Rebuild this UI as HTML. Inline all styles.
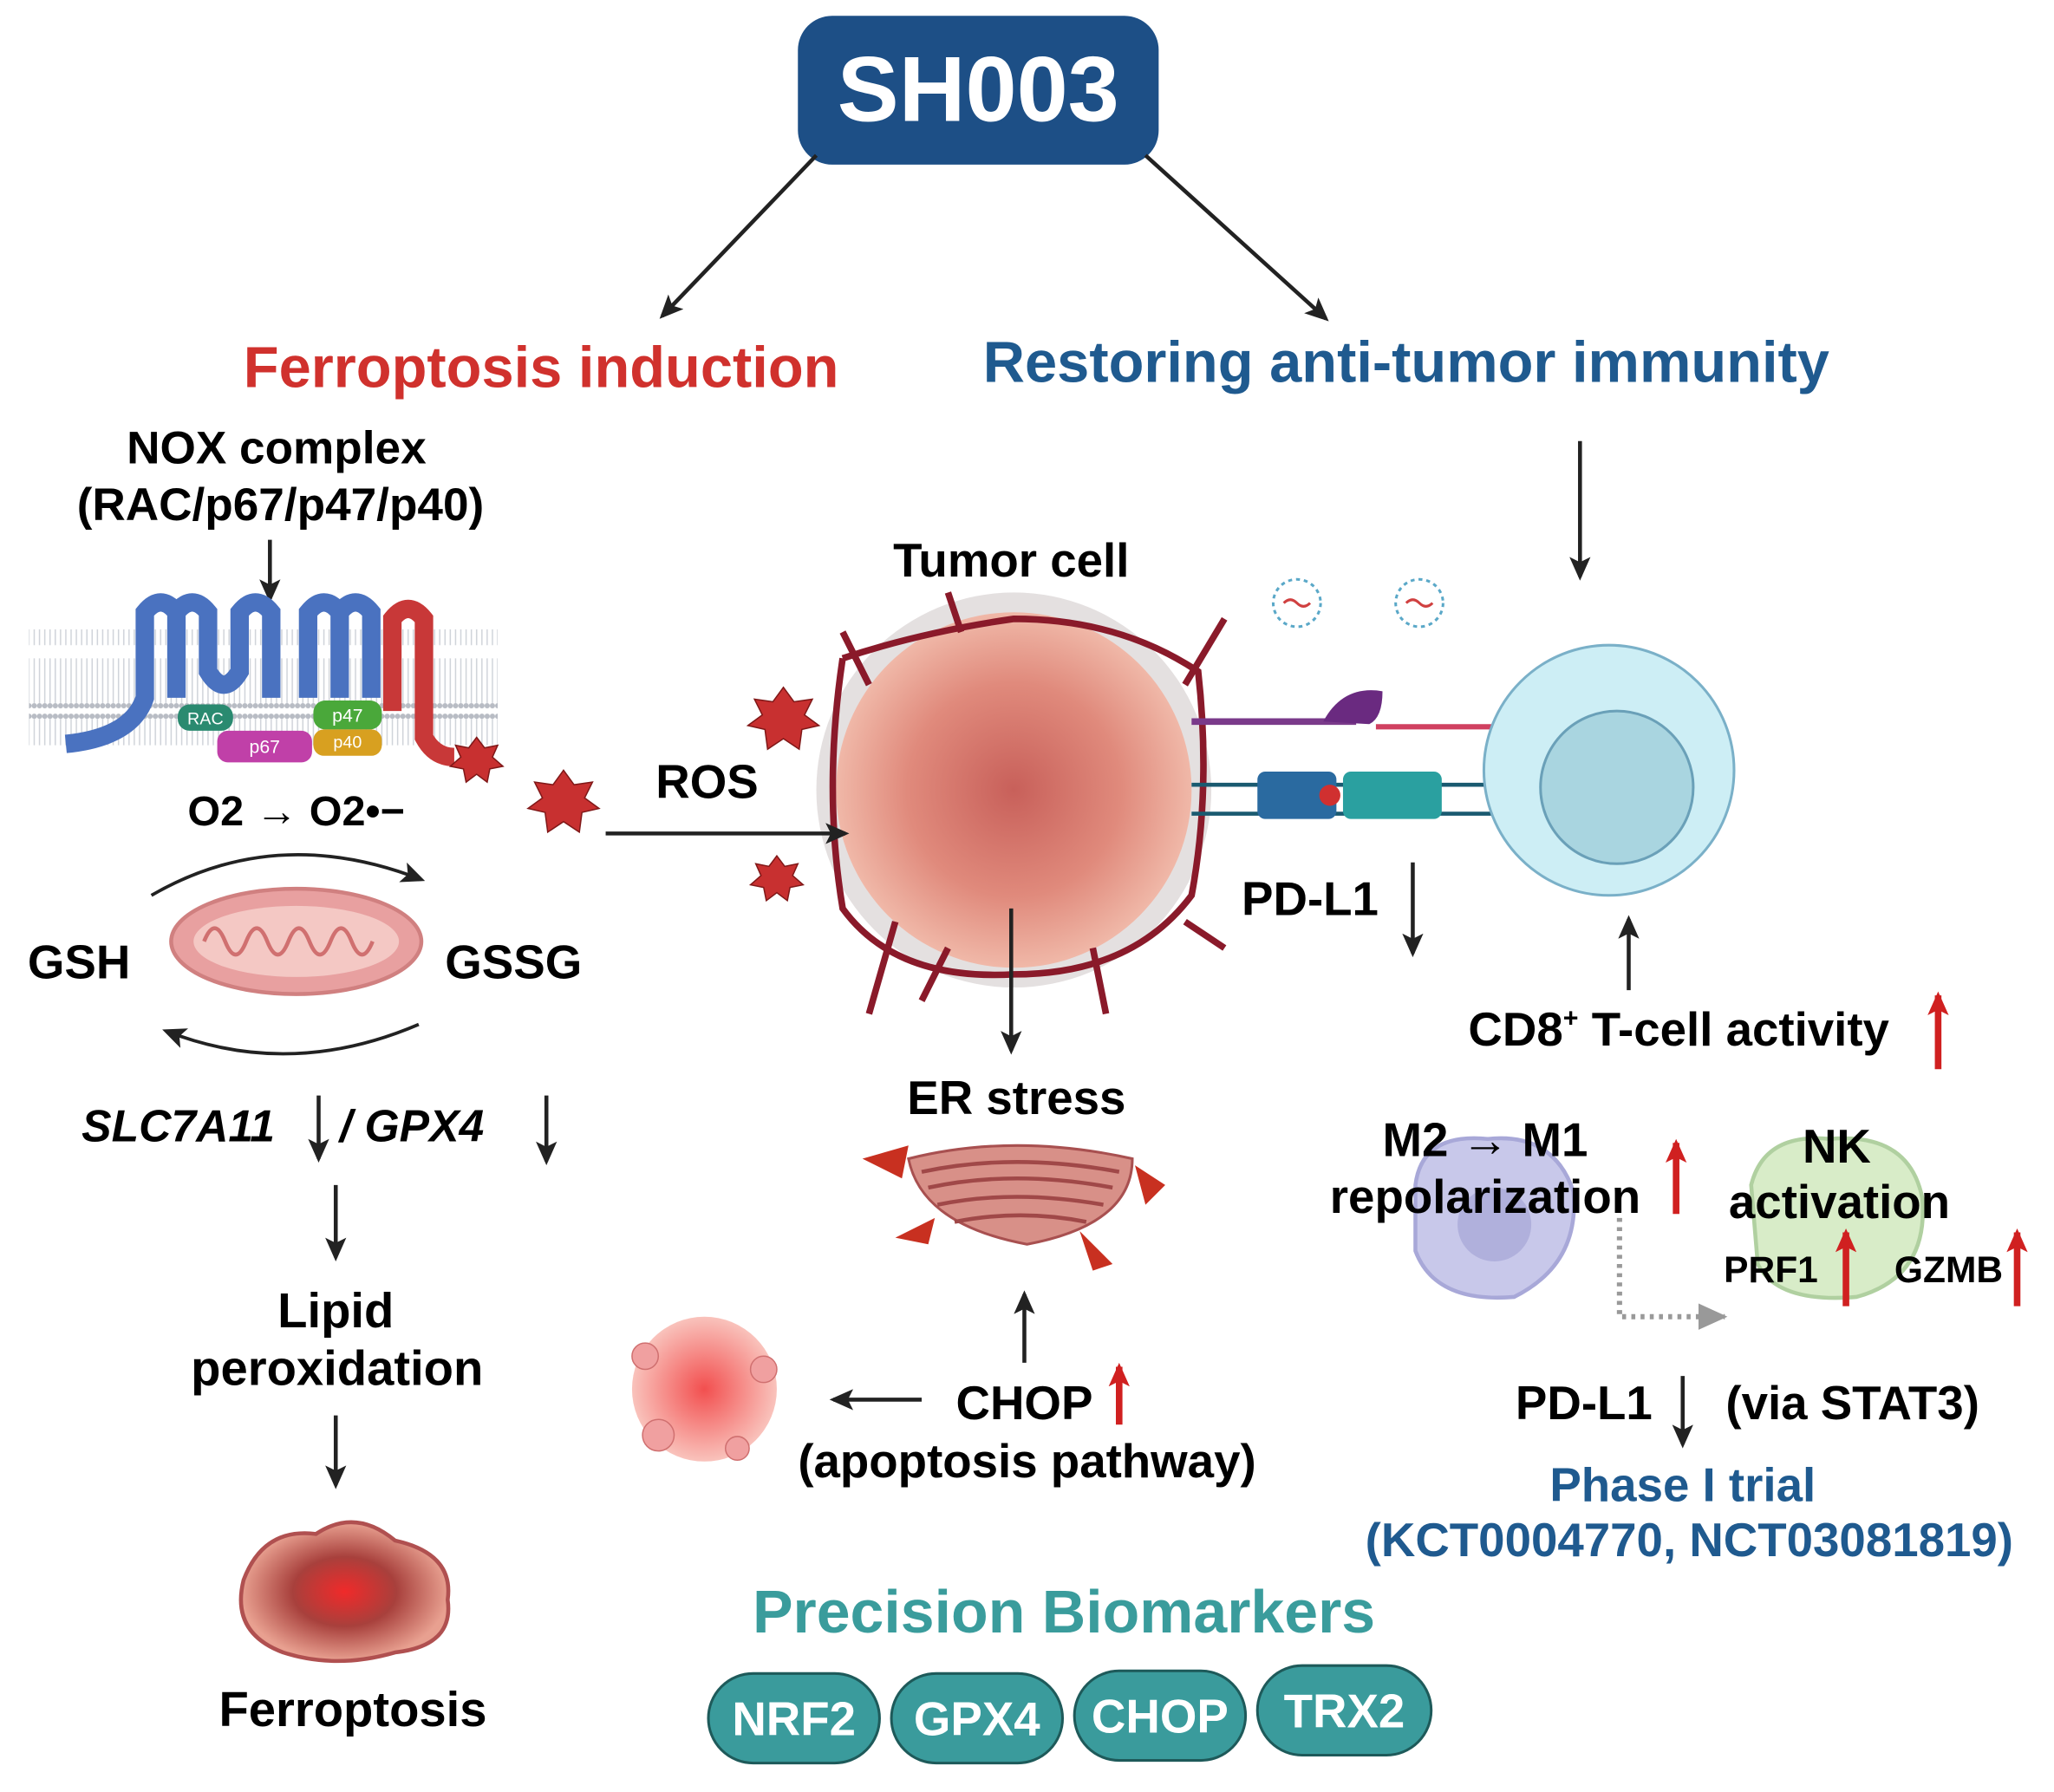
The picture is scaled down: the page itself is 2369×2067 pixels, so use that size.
<!DOCTYPE html>
<html><head><meta charset="utf-8"><style>
html,body{margin:0;padding:0;background:#fff}
svg{display:block}
text{font-family:"Liberation Sans",sans-serif}
</style></head><body>
<svg width="2369" height="2067" viewBox="0 0 1560 1361" preserveAspectRatio="none" xmlns="http://www.w3.org/2000/svg">
<defs>
<marker id="ah" markerWidth="18" markerHeight="16" refX="15" refY="8" orient="auto" markerUnits="userSpaceOnUse"><path d="M0,0 L18,8 L0,16 L4,8z" fill="#222"/></marker>
<marker id="ahr" markerWidth="18" markerHeight="16" refX="15" refY="8" orient="auto" markerUnits="userSpaceOnUse"><path d="M0,0 L18,8 L0,16 L4,8z" fill="#d02020"/></marker>
<marker id="ahg" markerWidth="22" markerHeight="20" refX="20" refY="10" orient="auto" markerUnits="userSpaceOnUse"><path d="M0,0 L22,10 L0,20z" fill="#999"/></marker>
<radialGradient id="tum" cx="50%" cy="50%" r="50%"><stop offset="0" stop-color="#c8605a"/><stop offset="0.6" stop-color="#e08a7c"/><stop offset="1" stop-color="#f0b8a8"/></radialGradient>
<radialGradient id="fer" cx="50%" cy="50%" r="50%"><stop offset="0" stop-color="#f02a2a"/><stop offset="0.5" stop-color="#a8403c"/><stop offset="1" stop-color="#e8a090"/></radialGradient>
<radialGradient id="apo" cx="50%" cy="50%" r="50%"><stop offset="0" stop-color="#f03030"/><stop offset="1" stop-color="#f8b8b0"/></radialGradient>
<pattern id="mem" width="4" height="90" patternUnits="userSpaceOnUse"><rect width="4" height="90" fill="#fff"/><circle cx="2" cy="4" r="2" fill="#b8bcc4"/><line x1="2" y1="6" x2="2" y2="40" stroke="#d0d4da" stroke-width="1"/><line x1="2" y1="50" x2="2" y2="84" stroke="#d0d4da" stroke-width="1"/><circle cx="2" cy="86" r="2" fill="#b8bcc4"/></pattern>
</defs>

<!-- SH003 -->
<rect x="606" y="12" width="274" height="113" rx="26" fill="#1d4f86"/>
<text x="743" y="92" font-size="70" font-weight="bold" fill="#fff" text-anchor="middle">SH003</text>
<line x1="620" y1="118" x2="503" y2="240" stroke="#222" stroke-width="3" marker-end="url(#ah)"/>
<line x1="870" y1="118" x2="1007" y2="242" stroke="#222" stroke-width="3" marker-end="url(#ah)"/>

<text x="411" y="294" font-size="44" font-weight="bold" fill="#d0312d" text-anchor="middle">Ferroptosis induction</text>
<text x="1068" y="290" font-size="44" font-weight="bold" fill="#1f5a8f" text-anchor="middle">Restoring anti-tumor immunity</text>

<!-- left column -->
<text x="210" y="352" font-size="35" font-weight="bold" text-anchor="middle">NOX complex</text>
<text x="213" y="395" font-size="35" font-weight="bold" text-anchor="middle">(RAC/p67/p47/p40)</text>
<line x1="205" y1="410" x2="205" y2="455" stroke="#222" stroke-width="3" marker-end="url(#ah)"/>
<rect x="22" y="478" width="356" height="88" fill="url(#mem)"/>
<path d="M50,565 Q100,560 110,530 L110,465 Q122,450 134,465 L134,530 M134,465 Q146,450 158,465 L158,510 Q170,530 182,510 L182,465 Q194,450 206,465 L206,530" fill="none" stroke-width="14" stroke="#4a72c0"/>
<path d="M234,530 L234,465 Q246,450 258,465 L258,530 M258,465 Q270,450 282,465 L282,530" fill="none" stroke-width="14" stroke="#4a72c0"/>
<path d="M298,540 L298,470 Q310,455 322,470 L322,560 Q330,575 345,575" fill="none" stroke-width="14" stroke="#c83838"/>
<rect x="135" y="535" width="42" height="20" rx="9" fill="#2a8a70"/><text x="156" y="550" font-size="13" fill="#fff" text-anchor="middle">RAC</text>
<rect x="165" y="555" width="72" height="24" rx="8" fill="#c040a8"/><text x="201" y="572" font-size="14" fill="#fff" text-anchor="middle">p67</text>
<rect x="238" y="532" width="52" height="22" rx="9" fill="#4aa83a"/><text x="264" y="548" font-size="14" fill="#fff" text-anchor="middle">p47</text>
<rect x="238" y="554" width="52" height="20" rx="8" fill="#d8a020"/><text x="264" y="568" font-size="13" fill="#fff" text-anchor="middle">p40</text>
<g fill="#c83030" stroke="#801818">
<polygon points="362,560 368,568 378,566 374,575 382,582 372,584 370,594 362,588 354,594 352,584 342,582 350,575 346,566 356,568"/>
<polygon points="428,585 436,596 450,594 444,606 455,614 442,617 440,632 428,624 416,632 414,617 401,614 412,606 406,594 420,596"/>
<polygon points="595,522 603,533 617,531 611,543 622,551 609,554 607,569 595,561 583,569 581,554 568,551 579,543 573,531 587,533"/>
<polygon points="590,650 596,658 606,656 602,665 610,672 600,674 598,684 590,678 582,684 580,674 570,672 578,665 574,656 584,658"/>
</g>
<text x="225" y="627" font-size="32" font-weight="bold" text-anchor="middle">O2 → O2•−</text>
<path d="M115,680 Q210,625 320,668" fill="none" stroke="#222" stroke-width="2.5" marker-end="url(#ah)"/>
<path d="M318,778 Q220,820 126,783" fill="none" stroke="#222" stroke-width="2.5" marker-end="url(#ah)"/>
<ellipse cx="225" cy="715" rx="95" ry="40" fill="#e8a0a0" stroke="#d08080" stroke-width="3"/>
<ellipse cx="225" cy="715" rx="78" ry="27" fill="#f4c8c4"/>
<path d="M155,715 q8,-20 16,0 q8,20 16,0 q8,-20 16,0 q8,20 16,0 q8,-20 16,0 q8,20 16,0 q8,-20 16,0 q8,20 16,0" fill="none" stroke="#d07070" stroke-width="3"/>
<text x="60" y="743" font-size="36" font-weight="bold" text-anchor="middle">GSH</text>
<text x="390" y="743" font-size="36" font-weight="bold" text-anchor="middle">GSSG</text>
<text x="62" y="867" font-size="34" font-weight="bold" font-style="italic">SLC7A11</text>
<line x1="242" y1="832" x2="242" y2="880" stroke="#222" stroke-width="3" marker-end="url(#ah)"/>
<text x="258" y="867" font-size="34" font-weight="bold" font-style="italic">/ GPX4</text>
<line x1="415" y1="832" x2="415" y2="882" stroke="#222" stroke-width="3" marker-end="url(#ah)"/>
<line x1="255" y1="900" x2="255" y2="955" stroke="#222" stroke-width="3" marker-end="url(#ah)"/>
<text x="255" y="1008" font-size="37" font-weight="bold" text-anchor="middle">Lipid</text>
<text x="256" y="1052" font-size="37" font-weight="bold" text-anchor="middle">peroxidation</text>
<line x1="255" y1="1075" x2="255" y2="1128" stroke="#222" stroke-width="3" marker-end="url(#ah)"/>
<path d="M185,1200 Q200,1160 240,1165 Q270,1145 300,1170 Q345,1180 340,1215 Q345,1250 300,1255 Q255,1268 215,1255 Q175,1240 185,1200z" fill="url(#fer)" stroke="#b05050" stroke-width="3"/>
<text x="268" y="1311" font-size="37" font-weight="bold" text-anchor="middle">Ferroptosis</text>

<!-- middle -->
<text x="537" y="606" font-size="36" font-weight="bold" text-anchor="middle">ROS</text>
<circle cx="770" cy="600" r="150" fill="#e4e0e0"/>
<circle cx="770" cy="600" r="135" fill="url(#tum)"/>
<g fill="none" stroke="#8a1a2a" stroke-width="5">
<path d="M640,500 Q700,480 770,470 Q850,470 910,510 Q920,600 905,680 Q860,740 770,740 Q680,745 640,690 Q625,600 640,500"/>
<path d="M660,770 L680,700 M700,760 L720,720 M840,770 L830,720 M900,700 L930,720 M930,470 L900,520 M640,480 L660,520 M720,450 L730,480"/>
</g>
<line x1="460" y1="633" x2="642" y2="633" stroke="#222" stroke-width="3" marker-end="url(#ah)"/>
<text x="768" y="438" font-size="36" font-weight="bold" text-anchor="middle">Tumor cell</text>
<line x1="768" y1="690" x2="768" y2="798" stroke="#222" stroke-width="3" marker-end="url(#ah)"/>
<text x="772" y="846" font-size="36" font-weight="bold" text-anchor="middle">ER stress</text>
<path d="M690,880 Q770,860 860,880 Q860,930 780,945 Q700,930 690,880z" fill="#d89088" stroke="#a85050" stroke-width="2"/>
<path d="M700,890 Q770,875 850,890 M705,902 Q770,888 845,902 M712,915 Q770,903 838,915 M725,928 Q775,918 825,928" fill="none" stroke="#a04848" stroke-width="3"/>
<g fill="#c83020"><polygon points="655,880 690,870 685,895"/><polygon points="862,885 885,900 870,915"/><polygon points="680,940 710,925 705,945"/><polygon points="820,935 845,960 830,965"/></g>
<line x1="778" y1="1035" x2="778" y2="983" stroke="#222" stroke-width="3" marker-end="url(#ah)"/>
<text x="778" y="1078" font-size="36" font-weight="bold" text-anchor="middle">CHOP</text>
<line x1="850" y1="1082" x2="850" y2="1038" stroke="#d02020" stroke-width="5" marker-end="url(#ahr)"/>
<text x="780" y="1122" font-size="36" font-weight="bold" text-anchor="middle">(apoptosis pathway)</text>
<line x1="700" y1="1063" x2="633" y2="1063" stroke="#222" stroke-width="3" marker-end="url(#ah)"/>
<circle cx="535" cy="1055" r="55" fill="url(#apo)" opacity="0.85"/>
<g fill="#f0a0a0" stroke="#d07070"><circle cx="490" cy="1030" r="10"/><circle cx="500" cy="1090" r="12"/><circle cx="560" cy="1100" r="9"/><circle cx="580" cy="1040" r="10"/></g>

<!-- right -->
<line x1="1200" y1="335" x2="1200" y2="438" stroke="#222" stroke-width="3" marker-end="url(#ah)"/>
<g fill="none" stroke="#5aa8c8" stroke-width="2"><circle cx="985" cy="458" r="18" stroke-dasharray="3 3"/><circle cx="1078" cy="458" r="18" stroke-dasharray="3 3"/></g>
<path d="M975,458 q5,-5 10,0 q5,5 10,0 M1068,458 q5,-5 10,0 q5,5 10,0" stroke="#d04040" fill="none" stroke-width="2"/>
<line x1="905" y1="548" x2="1030" y2="548" stroke="#7a3a8a" stroke-width="5"/>
<path d="M1005,548 Q1020,520 1050,525 Q1050,545 1040,550" fill="#6a2a80"/>
<line x1="1045" y1="552" x2="1160" y2="552" stroke="#d04060" stroke-width="4"/>
<line x1="905" y1="596" x2="1160" y2="596" stroke="#1a5a70" stroke-width="3"/>
<line x1="905" y1="618" x2="1160" y2="618" stroke="#1a5a70" stroke-width="3"/>
<rect x="955" y="586" width="60" height="36" rx="6" fill="#2a6aa0"/>
<rect x="1020" y="586" width="75" height="36" rx="6" fill="#2aa0a0"/>
<circle cx="1010" cy="604" r="8" fill="#d03030"/>
<circle cx="1222" cy="585" r="95" fill="#cdeef5" stroke="#7ab0c8" stroke-width="2"/>
<circle cx="1228" cy="598" r="58" fill="#a9d5e0" stroke="#6aa0b8" stroke-width="2"/>
<text x="995" y="695" font-size="36" font-weight="bold" text-anchor="middle">PD-L1</text>
<line x1="1073" y1="655" x2="1073" y2="724" stroke="#222" stroke-width="3" marker-end="url(#ah)"/>
<line x1="1237" y1="752" x2="1237" y2="698" stroke="#222" stroke-width="3" marker-end="url(#ah)"/>
<text x="1275" y="794" font-size="36" font-weight="bold" text-anchor="middle">CD8<tspan font-size="20" dy="-14">+</tspan><tspan dy="14"> T-cell activity</tspan></text>
<line x1="1472" y1="812" x2="1472" y2="756" stroke="#d02020" stroke-width="5" marker-end="url(#ahr)"/>
<path d="M1075,900 Q1080,860 1130,865 Q1180,860 1195,905 Q1200,960 1150,985 Q1090,990 1075,950z" fill="#c8c8ea" stroke="#a8a8d8" stroke-width="3"/>
<circle cx="1135" cy="930" r="28" fill="#b0b0dc"/>
<path d="M1330,900 Q1340,860 1390,865 Q1450,860 1460,910 Q1465,970 1410,985 Q1350,990 1335,960z" fill="#d8ecc8" stroke="#b0d0a0" stroke-width="3"/>
<text x="1128" y="878" font-size="36" font-weight="bold" text-anchor="middle">M2 → M1</text>
<text x="1128" y="921" font-size="36" font-weight="bold" text-anchor="middle">repolarization</text>
<line x1="1273" y1="922" x2="1273" y2="868" stroke="#d02020" stroke-width="5" marker-end="url(#ahr)"/>
<text x="1395" y="883" font-size="36" font-weight="bold" text-anchor="middle">NK</text>
<text x="1397" y="925" font-size="36" font-weight="bold" text-anchor="middle">activation</text>
<text x="1345" y="974" font-size="28" font-weight="bold" text-anchor="middle">PRF1</text>
<line x1="1402" y1="992" x2="1402" y2="936" stroke="#d02020" stroke-width="5" marker-end="url(#ahr)"/>
<text x="1480" y="974" font-size="28" font-weight="bold" text-anchor="middle">GZMB</text>
<line x1="1532" y1="992" x2="1532" y2="936" stroke="#d02020" stroke-width="5" marker-end="url(#ahr)"/>
<path d="M1230,925 L1230,1000 L1310,1000" fill="none" stroke="#999" stroke-width="4" stroke-dasharray="3 4" marker-end="url(#ahg)"/>
<text x="1203" y="1078" font-size="36" font-weight="bold" text-anchor="middle">PD-L1</text>
<line x1="1278" y1="1045" x2="1278" y2="1097" stroke="#222" stroke-width="3" marker-end="url(#ah)"/>
<text x="1407" y="1078" font-size="36" font-weight="bold" text-anchor="middle">(via STAT3)</text>
<text x="1278" y="1140" font-size="36" font-weight="bold" fill="#1f5a8f" text-anchor="middle">Phase I trial</text>
<text x="1283" y="1182" font-size="36" font-weight="bold" fill="#1f5a8f" text-anchor="middle">(KCT0004770, NCT03081819)</text>

<!-- biomarkers -->
<text x="808" y="1240" font-size="46" font-weight="bold" fill="#3a9c9c" text-anchor="middle">Precision Biomarkers</text>
<g stroke="#1e5a5a" stroke-width="2" fill="#3a9b9c">
<rect x="538" y="1271" width="130" height="68" rx="34"/>
<rect x="677" y="1271" width="130" height="68" rx="34"/>
<rect x="816" y="1269" width="130" height="68" rx="34"/>
<rect x="955" y="1265" width="132" height="68" rx="34"/>
</g>
<g font-size="36" font-weight="bold" fill="#fff" text-anchor="middle">
<text x="603" y="1318">NRF2</text><text x="742" y="1318">GPX4</text><text x="881" y="1316">CHOP</text><text x="1021" y="1312">TRX2</text>
</g>
</svg>
</body></html>
